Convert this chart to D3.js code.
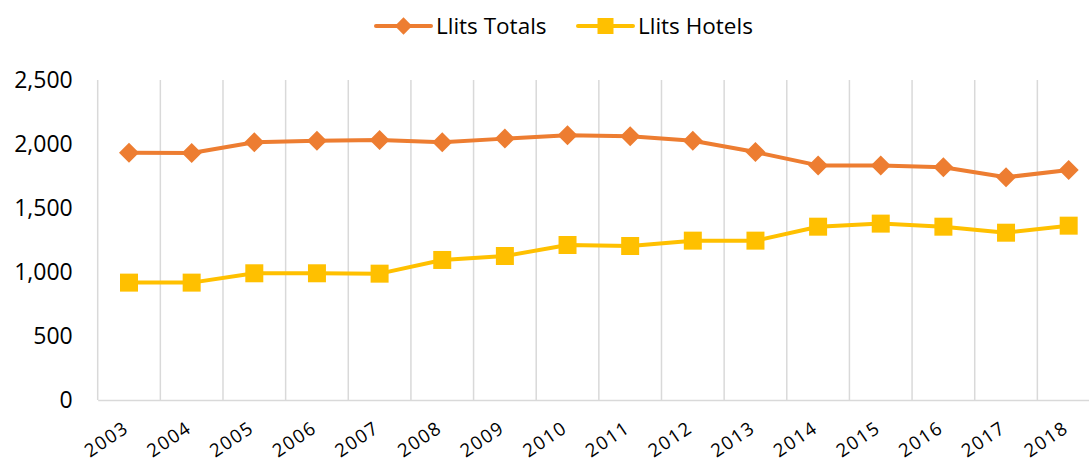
<!DOCTYPE html>
<html><head><meta charset="utf-8">
<script src="https://cdn.jsdelivr.net/npm/d3@7"></script>
<style>body{margin:0;background:#fff;}svg{display:block;font-family:"Open Sans",sans-serif;}</style>
</head><body>
<svg id="c" width="1089" height="461"></svg>
<script>
const years = ["2003","2004","2005","2006","2007","2008","2009","2010","2011","2012","2013","2014","2015","2016","2017","2018"];
const llitsTotals = [1932,1930,2013,2026,2031,2013,2042,2068,2060,2026,1937,1833,1833,1818,1740,1797];
const llitsHotels = [917,917,990,990,987,1094,1125,1211,1203,1245,1245,1354,1378,1354,1307,1362];
const yTicks = [0,500,1000,1500,2000,2500];
const seriesNames = ["Llits Totals","Llits Hotels"];
const colors = ["#ED7D31","#FFC000"];

const svg = d3.select("#c");
const x = d3.scaleBand().domain(years).range([97.7, 1100]);
const y = d3.scaleLinear().domain([0,2500]).range([400,80]);

// vertical gridlines at band edges
const edges = years.map(d => x(d)).concat([x(years[years.length-1]) + x.bandwidth()]);
svg.append("g").selectAll("line").data(edges.slice(1)).join("line")
  .attr("x1", d=>d).attr("x2", d=>d).attr("y1", y(2500)).attr("y2", y(0))
  .attr("stroke", "#D9D9D9").attr("stroke-width", 1.5);

// bottom axis
const xAxis = svg.append("g").attr("transform", `translate(0,${y(0)})`)
  .call(d3.axisBottom(x).tickSize(0).tickSizeOuter(0).tickPadding(0));
xAxis.select(".domain").attr("stroke","#D9D9D9").attr("stroke-width",1.5);
xAxis.selectAll("text")
  .attr("font-size", 18.5).attr("fill","#000").attr("font-family","Open Sans")
  .attr("letter-spacing", 1.5)
  .attr("text-anchor","end").attr("dy",null).attr("y",0)
  .attr("transform", `translate(1,31) rotate(-34)`);

// left axis
const yAxis = svg.append("g").attr("transform", `translate(97.7,0)`)
  .call(d3.axisLeft(y).tickValues(yTicks).tickSize(0).tickPadding(25).tickFormat(d3.format(",")));
yAxis.select(".domain").attr("stroke","#D9D9D9").attr("stroke-width",1.5).attr("d", `M0,${y(2500)}V${y(0)}`);
yAxis.selectAll("text").attr("font-size", 23).attr("fill","#000").attr("font-family","Open Sans");

const cx = d => x(d) + x.bandwidth()/2;
const data = [llitsTotals, llitsHotels];
const line = d3.line().x((v,i)=>cx(years[i])).y(v=>y(v));

data.forEach((vals, si) => {
  svg.append("path").datum(vals).attr("d", line)
    .attr("fill","none").attr("stroke", colors[si]).attr("stroke-width", 4).attr("stroke-linejoin","round");
});
const diamond = d3.symbol().type(d3.symbolSquare).size(200);
svg.append("g").selectAll("path").data(llitsTotals).join("path")
  .attr("d", diamond)
  .attr("transform", (v,i)=>`translate(${cx(years[i])},${y(v)}) rotate(45)`)
  .attr("fill", colors[0]);
const square = d3.symbol().type(d3.symbolSquare).size(324);
svg.append("g").selectAll("path").data(llitsHotels).join("path")
  .attr("d", square)
  .attr("transform", (v,i)=>`translate(${cx(years[i])},${y(v)})`)
  .attr("fill", colors[1]);

// legend
const legend = [{x:376, name:seriesNames[0], c:colors[0], sym:"d"},{x:578, name:seriesNames[1], c:colors[1], sym:"s"}];
const lg = svg.append("g");
legend.forEach(l => {
  lg.append("line").attr("x1", l.x).attr("x2", l.x+55).attr("y1",26).attr("y2",26)
    .attr("stroke", l.c).attr("stroke-width",4).attr("stroke-linecap","round");
  lg.append("path").attr("d", l.sym==="d" ? d3.symbol().type(d3.symbolSquare).size(150)() : d3.symbol().type(d3.symbolSquare).size(256)())
    .attr("transform", `translate(${l.x+27.5},26)` + (l.sym==="d" ? " rotate(45)" : ""))
    .attr("fill", l.c);
  lg.append("text").attr("x", l.x+60).attr("y", 26).attr("dy","0.35em")
    .attr("font-size", 22.5).attr("fill","#000").text(l.name);
});
</script>
</body></html>
